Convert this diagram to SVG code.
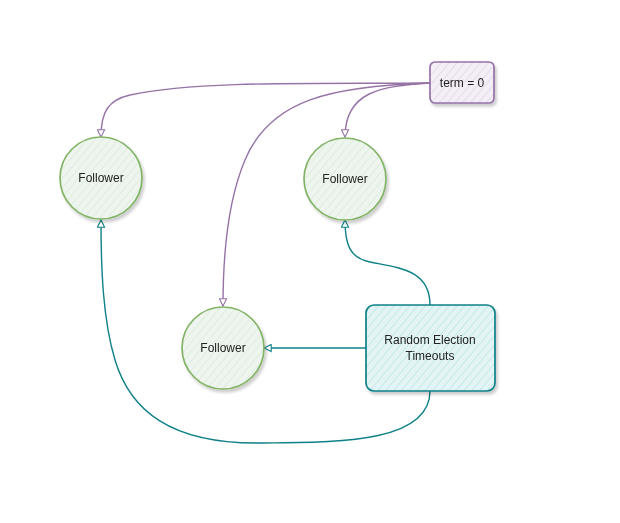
<svg xmlns="http://www.w3.org/2000/svg" width="620" height="523" viewBox="0 0 620 523">
<defs>
<pattern id="hp" patternUnits="userSpaceOnUse" width="6" height="6" patternTransform="rotate(40)"><rect width="6" height="6" fill="#f4eef7"/><line x1="0" y1="0" x2="0" y2="6" stroke="#d9c8e2" stroke-width="1"/></pattern>
<pattern id="hg" patternUnits="userSpaceOnUse" width="6" height="6" patternTransform="rotate(40)"><rect width="6" height="6" fill="#eef5ee"/><line x1="0" y1="0" x2="0" y2="6" stroke="#cfe5cd" stroke-width="1"/></pattern>
<pattern id="ht" patternUnits="userSpaceOnUse" width="6" height="6" patternTransform="rotate(40)"><rect width="6" height="6" fill="#e3f4f5"/><line x1="0" y1="0" x2="0" y2="6" stroke="#a9dde0" stroke-width="1"/></pattern>
<filter id="sh" x="-20%" y="-20%" width="150%" height="150%"><feGaussianBlur in="SourceAlpha" stdDeviation="1.5"/><feOffset dx="2" dy="3"/><feComponentTransfer><feFuncA type="linear" slope="0.2"/></feComponentTransfer><feMerge><feMergeNode/><feMergeNode in="SourceGraphic"/></feMerge></filter>
<marker id="ap" viewBox="0 0 10 10" refX="9" refY="5" markerWidth="9" markerHeight="9" orient="auto" markerUnits="userSpaceOnUse"><path d="M1,1 L9,5 L1,9 Z" fill="#fff" stroke="#9673a6" stroke-width="1.2"/></marker>
<marker id="at" viewBox="0 0 10 10" refX="9" refY="5" markerWidth="9" markerHeight="9" orient="auto" markerUnits="userSpaceOnUse"><path d="M1,1 L9,5 L1,9 Z" fill="#fff" stroke="#0e8088" stroke-width="1.2"/></marker>
<style>
.lbl{font-family:"Liberation Sans",Arial,sans-serif;font-size:12px;fill:#222;text-anchor:middle}
.ep{fill:none;stroke:#9673a6;stroke-width:1.4}
.et{fill:none;stroke:#0e8088;stroke-width:1.4}
.ng{fill:url(#hg);stroke:#82b366;stroke-width:1.7}
.np{fill:url(#hp);stroke:#9673a6;stroke-width:1.7}
.nt{fill:url(#ht);stroke:#0e8088;stroke-width:1.7}
</style>
</defs>
<rect width="620" height="523" fill="#fff"/>
<g id="connectors">
<path class="ep" d="M430,83 C330,84 200,80 130,95 C108,100 101,112 101,137" marker-end="url(#ap)"/>
<path class="ep" d="M430,83 C380,86 345,92 345,137" marker-end="url(#ap)"/>
<path class="ep" d="M430,83 C330,86 270,100 245,160 C228,200 223,250 223,306" marker-end="url(#ap)"/>
<path class="et" d="M430,305 C430,270 400,268 370,262 C350,258 345,245 345,220" marker-end="url(#at)"/>
<path class="et" d="M366,348 L264,348" marker-end="url(#at)"/>
<path class="et" d="M430,391 C430,445 330,442 260,443 C170,444 130,410 115,360 C103,320 101,270 101,220" marker-end="url(#at)"/>
</g>
<g id="term" filter="url(#sh)">
<rect class="np" x="430" y="62" width="64" height="41" rx="5"/>
<text class="lbl" x="462" y="87">term = 0</text>
</g>
<g id="follower-left" filter="url(#sh)">
<circle class="ng" cx="101" cy="178" r="41"/>
<text class="lbl" x="101" y="182">Follower</text>
</g>
<g id="follower-right" filter="url(#sh)">
<circle class="ng" cx="345" cy="179" r="41"/>
<text class="lbl" x="345" y="183">Follower</text>
</g>
<g id="follower-bottom" filter="url(#sh)">
<circle class="ng" cx="223" cy="348" r="41"/>
<text class="lbl" x="223" y="352">Follower</text>
</g>
<g id="random" filter="url(#sh)">
<rect class="nt" x="366" y="305" width="129" height="86" rx="8"/>
<text class="lbl" x="430" y="344">Random Election</text>
<text class="lbl" x="430" y="360">Timeouts</text>
</g>
</svg>
